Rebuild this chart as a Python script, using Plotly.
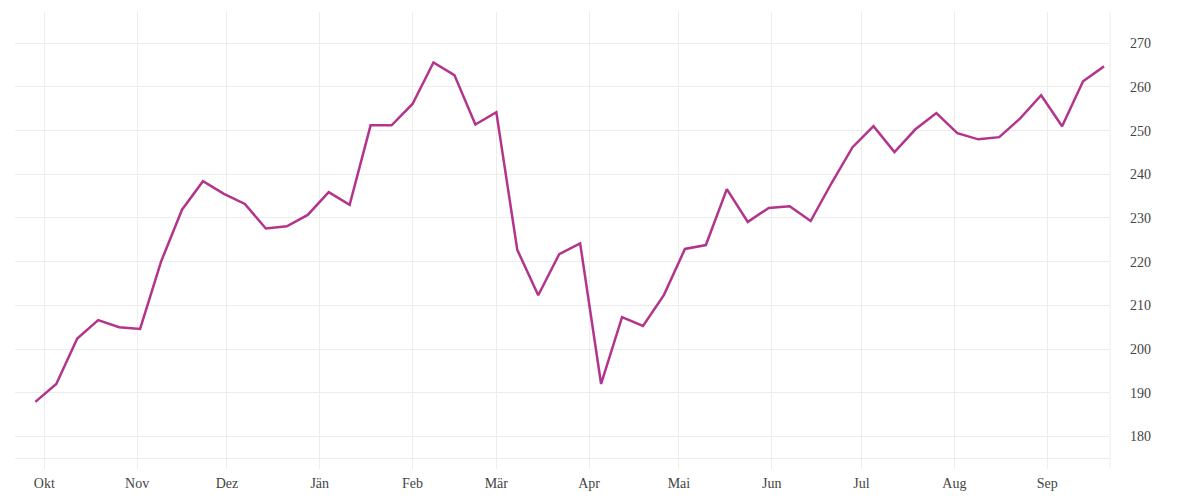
import pandas as pd
import plotly.graph_objects as go

# Wochenwerte, Ende Sep 2018 bis Mitte Sep 2019
dates = pd.date_range("2018-09-28", periods=52, freq="7D")
values = [
    187.9, 192.0, 202.4, 206.6, 205.0, 204.6, 220.0, 231.9, 238.4, 235.5,
    233.2, 227.6, 228.1, 230.7, 235.9, 233.0, 251.2, 251.2, 256.1, 265.6,
    262.7, 251.4, 254.2, 222.7, 212.3, 221.7, 224.2, 192.0, 207.3, 205.3,
    212.4, 222.9, 223.8, 236.6, 229.1, 232.3, 232.7, 229.3, 238.0, 246.2,
    251.0, 245.1, 250.3, 254.0, 249.4, 248.0, 248.5, 252.8, 258.1, 251.0,
    261.3, 264.7,
]

month_ticks = pd.date_range("2018-10-01", periods=12, freq="MS")
month_labels = ["Okt", "Nov", "Dez", "Jän", "Feb", "Mär",
                "Apr", "Mai", "Jun", "Jul", "Aug", "Sep"]

grid = "#ececec"

fig = go.Figure(go.Scatter(
    x=dates, y=values, mode="lines",
    line=dict(color="#b3348b", width=2.5),
    hoverinfo="x+y",
))

# die Seite hat 8px Rand, daher 1192x492
fig.update_layout(
    width=1192, height=492,
    margin=dict(l=7, r=90, t=4, b=42),
    plot_bgcolor="white", paper_bgcolor="white",
    showlegend=False,
    font=dict(family="Liberation Serif", size=14, color="#444"),
    xaxis=dict(
        range=["2018-09-21 05:00", "2019-09-22"],
        tickvals=month_ticks, ticktext=month_labels,
        showgrid=True, gridcolor=grid, gridwidth=1,
        showline=True, linecolor=grid, linewidth=1,
        ticks="outside", ticklen=10, tickcolor=grid, tickwidth=1,
        ticklabelstandoff=2,
        zeroline=False,
    ),
    yaxis=dict(
        side="right", range=[175.05, 277.15],
        tick0=180, dtick=10,
        showgrid=True, gridcolor=grid, gridwidth=1,
        ticks="", ticklabelstandoff=19,
        zeroline=False, showline=False,
    ),
    shapes=[dict(
        type="line", xref="paper", yref="paper",
        x0=1, x1=1, y0=-10 / 446, y1=1,
        line=dict(color=grid, width=1), layer="below",
    )],
)

fig.write_html("out.html")
